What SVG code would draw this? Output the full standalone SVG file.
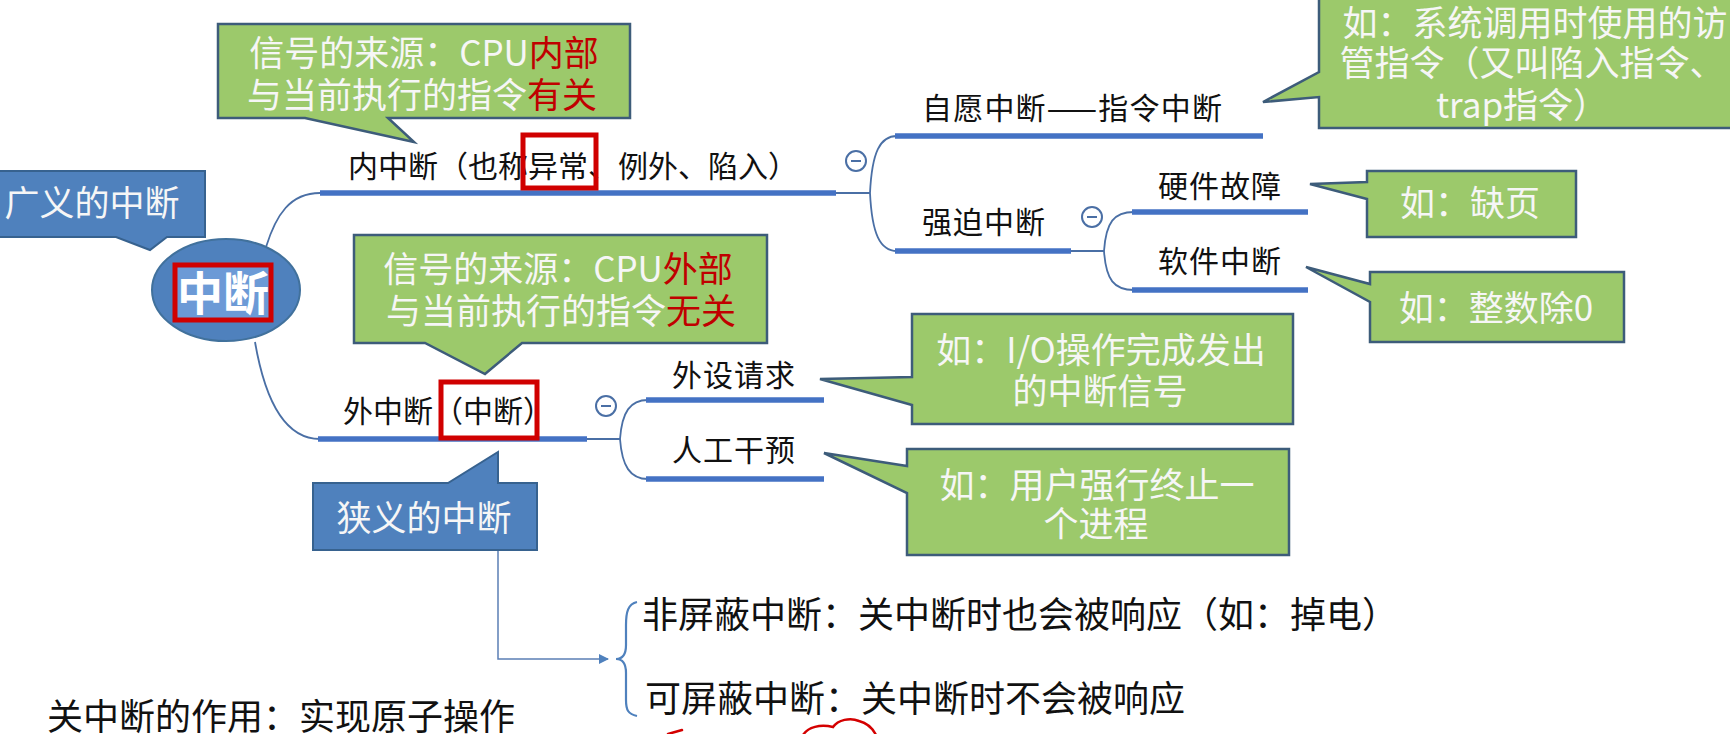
<svg xmlns="http://www.w3.org/2000/svg" width="1730" height="734" viewBox="0 0 1730 734">
<defs>
<style>
.cjk{font-family:"Noto Sans CJK SC","Liberation Sans",sans-serif}
.lbl{font-size:30px;fill:#111}
.big{font-size:36px;fill:#111}
.cw{font-size:35px;fill:#f6f6f6;text-anchor:middle}
.red{fill:#c00000}
.green{fill:#9cc96b;stroke:#3d5c7a;stroke-width:2.5;stroke-linejoin:miter}
.blue{fill:#4f81bd;stroke:#37628f;stroke-width:2}
.thick{stroke:#4472c4;stroke-width:5.5;fill:none}
.thin{stroke:#4a6fa5;stroke-width:1.8;fill:none}
.rbox{fill:none;stroke:#d00000;stroke-width:5}
.tog{fill:#fff;stroke:#4a6fa5;stroke-width:2}
</style>
<marker id="arr" viewBox="0 0 10 10" refX="9" refY="5" markerWidth="10" markerHeight="10" markerUnits="userSpaceOnUse" orient="auto">
<path d="M0,0 L10,5 L0,10 z" fill="#4f81bd"/>
</marker>
</defs>
<rect width="1730" height="734" fill="#fff"/>

<g id="connectors">
<path class="thin" d="M266,247 C276,215 290,193 320,193"/>
<path class="thick" d="M320,193 L836,193"/>
<path class="thin" d="M836,193 L870,193"/>
<path class="thin" d="M870,193 C872,152 880,136 897,136"/>
<path class="thin" d="M870,193 C872,234 880,251 897,251"/>
<path class="thick" d="M895,136 L1263,136"/>
<path class="thick" d="M895,251 L1071,251"/>
<path class="thin" d="M1071,251 L1104,251"/>
<path class="thin" d="M1104,251 C1106,222 1114,212 1134,212"/>
<path class="thin" d="M1104,251 C1106,280 1114,290 1134,290"/>
<path class="thick" d="M1132,212 L1308,212"/>
<path class="thick" d="M1132,290 L1308,290"/>
<path class="thin" d="M255,342 C265,400 285,439 320,439"/>
<path class="thick" d="M318,439 L587,439"/>
<path class="thin" d="M587,439 L620,439"/>
<path class="thin" d="M620,439 C622,412 630,400 648,400"/>
<path class="thin" d="M620,439 C622,466 630,479 648,479"/>
<path class="thick" d="M646,400 L824,400"/>
<path class="thick" d="M646,479 L824,479"/>
<path d="M498,550 L498,659 L608,659" fill="none" stroke="#5b7fb5" stroke-width="1.5" marker-end="url(#arr)"/>
<path d="M637,602 C628,604 626,612 626,625 L626,645 C626,655 622,659 616,659 C622,659 626,663 626,673 L626,700 C626,710 628,714 637,716" fill="none" stroke="#4f81bd" stroke-width="2.2"/>
</g>

<g id="toggles">
<circle class="tog" cx="856" cy="161" r="10"/><path d="M851,161 H861" stroke="#4a6fa5" stroke-width="2"/>
<circle class="tog" cx="1092" cy="217" r="10"/><path d="M1087,217 H1097" stroke="#4a6fa5" stroke-width="2"/>
<circle class="tog" cx="606" cy="406" r="10"/><path d="M601,406 H611" stroke="#4a6fa5" stroke-width="2"/>
</g>

<g id="root">
<ellipse cx="226" cy="290" rx="74" ry="51" fill="#4f81bd" stroke="#41719c" stroke-width="2"/>
<rect x="175" y="265" width="96" height="55" fill="#6c9ad6"/>
<rect class="rbox" x="175" y="265" width="96" height="55"/>
<text class="cjk" x="223" y="310" font-size="46" font-weight="bold" fill="#fff" text-anchor="middle">中断</text>
</g>

<g id="callout-broad">
<path class="blue" d="M-5,171 H205 V237 H167 L150,250 L116,237 H-5 Z"/>
<text class="cjk cw" x="92" y="216">广义的中断</text>
</g>

<g id="callout-narrow">
<path class="blue" d="M313,483 H448 L498,452 V483 H537 V550 H313 Z"/>
<text class="cjk cw" x="424" y="531">狭义的中断</text>
</g>

<g id="callout-inner-source">
<path class="green" d="M218,24 H630 V118 H388 L414,142 L305,118 H218 Z"/>
<text class="cjk cw" x="424" y="66">信号的来源：CPU<tspan class="red">内部</tspan><tspan x="422" dy="42">与当前执行的指令</tspan><tspan class="red">有关</tspan></text>
</g>

<g id="callout-outer-source">
<path class="green" d="M354,235 H767 V343 H522 L485,374 L425,343 H354 Z"/>
<text class="cjk cw" x="558" y="282">信号的来源：CPU<tspan class="red">外部</tspan><tspan x="561" dy="42">与当前执行的指令</tspan><tspan class="red">无关</tspan></text>
</g>

<g id="callout-trap">
<path class="green" d="M1319,-5 H1745 V128 H1319 V97 L1263,102 L1319,72 Z"/>
<text class="cjk cw" x="1535" y="36">如：系统调用时使用的访<tspan x="1532" dy="40">管指令（又叫陷入指令、</tspan><tspan x="1522" dy="42">trap指令）</tspan></text>
</g>

<g id="callout-page">
<path class="green" d="M1367,171 H1576 V237 H1367 V199 L1310,184 L1367,182 Z"/>
<text class="cjk cw" x="1470" y="216">如：缺页</text>
</g>

<g id="callout-div0">
<path class="green" d="M1370,272 H1624 V342 H1370 V302 L1306,267 L1370,284 Z"/>
<text class="cjk cw" x="1496" y="321">如：整数除0</text>
</g>

<g id="callout-io">
<path class="green" d="M912,314 H1293 V424 H912 V405 L820,379 L912,377 Z"/>
<text class="cjk cw" x="1101" y="363">如：I/O操作完成发出<tspan x="1100" dy="41">的中断信号</tspan></text>
</g>

<g id="callout-user">
<path class="green" d="M907,449 H1289 V555 H907 V493 L824,453 L907,466 Z"/>
<text class="cjk cw" x="1097" y="498">如：用户强行终止一<tspan x="1096" dy="39">个进程</tspan></text>
</g>

<g id="node-internal">
<text class="cjk lbl" x="348" y="177" font-size="29.5">内中断（也称异常、例外、陷入）</text>
<rect class="rbox" x="523" y="135" width="73" height="53"/>
</g>

<g id="node-voluntary">
<text class="cjk lbl" x="922" y="119" letter-spacing="1.2">自愿中断——指令中断</text>
</g>
<g id="node-forced">
<text class="cjk lbl" x="922" y="233" letter-spacing="1">强迫中断</text>
</g>
<g id="node-hardware">
<text class="cjk lbl" x="1158" y="197" letter-spacing="1">硬件故障</text>
</g>
<g id="node-software">
<text class="cjk lbl" x="1158" y="272" letter-spacing="1">软件中断</text>
</g>

<g id="node-external">
<text class="cjk lbl" x="343" y="422" font-size="29">外中断（中断）</text>
<rect class="rbox" x="441" y="382" width="96" height="56"/>
</g>
<g id="node-device">
<text class="cjk lbl" x="672" y="386" letter-spacing="1">外设请求</text>
</g>
<g id="node-manual">
<text class="cjk lbl" x="672" y="461" letter-spacing="1">人工干预</text>
</g>

<g id="node-nmi">
<text class="cjk big" x="642" y="628">非屏蔽中断：关中断时也会被响应（如：掉电）</text>
</g>
<g id="node-mi">
<text class="cjk big" x="645" y="712">可屏蔽中断：关中断时不会被响应</text>
</g>
<g id="note">
<text class="cjk big" x="47" y="730">关中断的作用：实现原子操作</text>
</g>

<g id="scribble" fill="none" stroke="#d40000" stroke-width="2.5" stroke-linecap="round">
<path d="M668,734 L682,730"/>
<path d="M803,735 C808,727 820,724 833,727 C838,720 850,717 859,721 C867,723 873,729 876,735"/>
</g>
</svg>
